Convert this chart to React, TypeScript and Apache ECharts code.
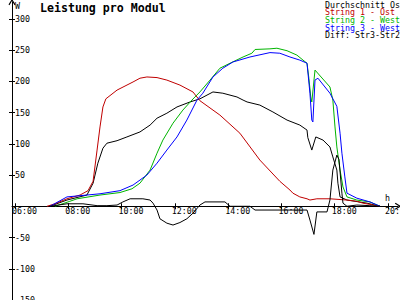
import React, { useEffect, useRef } from "react";
import * as echarts from "echarts";

// x ticks in hours, y ticks in W
const xTickHours = [6, 8, 10, 12, 14, 16, 18, 20];
const yTickValues = [-150, -100, -50, 50, 100, 150, 200, 250, 300];

const titleText = "Leistung pro Modul";
const legendNames = [
  "Durchschnitt Ost",
  "String 1 - Ost",
  "String 2 - West",
  "String 3 - West",
  "Diff: Str3-Str2",
];
const legendColors = ["#000000", "#c00000", "#00b400", "#0000ff", "#000000"];

// [hour, W]
const durchschnitt: [number, number][] = [
  [7.31, 0], [7.95, 10], [8.7, 18], [8.93, 37], [9.11, 69], [9.3, 93], [9.45, 101],
  [9.83, 105], [10.2, 111], [10.69, 119], [11.07, 130], [11.33, 141], [11.7, 149],
  [12.08, 159], [12.57, 167], [12.94, 172], [13.43, 183], [13.8, 181], [14.33, 175],
  [14.56, 170], [14.71, 167], [15.19, 162], [15.68, 151], [16.21, 138], [16.69, 130],
  [16.96, 122], [16.99, 110], [17.14, 90], [17.29, 111], [17.56, 106], [17.82, 95],
  [17.93, 79], [18.08, 58], [18.12, 37], [18.2, 15], [18.46, 10], [19.21, 5], [19.7, 0],
];
const string1Ost: [number, number][] = [
  [7.2, 0], [7.5, 4], [7.95, 12], [8.44, 18], [8.74, 25], [8.93, 40], [9.08, 90],
  [9.19, 127], [9.3, 159], [9.41, 172], [9.83, 186], [10.43, 199], [10.69, 205],
  [10.95, 207], [11.33, 206], [11.7, 202], [12.19, 194], [12.68, 183], [12.94, 169],
  [13.69, 146], [14.44, 117], [15.19, 74], [15.94, 40], [16.32, 26], [16.43, 21],
  [16.69, 15], [16.96, 12], [17.07, 10], [17.33, 12], [17.82, 12], [18.46, 10],
  [18.83, 8], [19.06, 5], [19.32, 3], [19.7, 0],
];
const string2West: [number, number][] = [
  [7.5, 0], [8.06, 8], [8.33, 12], [9.19, 18], [9.94, 22], [10.39, 28], [10.69, 37],
  [11.07, 58], [11.33, 85], [11.55, 106], [11.93, 133], [12.3, 154], [12.64, 170],
  [12.94, 183], [13.32, 202], [13.69, 221], [14.07, 229], [14.56, 239], [14.89, 245],
  [15.01, 251], [15.57, 252], [15.83, 253], [16.21, 249], [16.58, 242], [16.81, 234],
  [16.96, 229], [17.03, 205], [17.1, 175], [17.14, 167], [17.26, 218], [17.82, 191],
  [17.93, 170], [18.01, 127], [18.08, 95], [18.2, 58], [18.31, 31], [18.46, 15],
  [18.83, 10], [19.32, 7], [19.7, 0],
];
const string3West: [number, number][] = [
  [7.31, 0], [7.95, 15], [9.19, 20], [9.94, 25], [10.43, 34], [10.95, 50], [11.33, 69],
  [11.7, 90], [12.08, 111], [12.45, 138], [12.83, 170], [13.05, 181], [13.43, 207],
  [13.8, 221], [14.18, 231], [14.82, 239], [15.57, 246], [15.94, 245], [16.32, 239],
  [16.69, 234], [16.96, 229], [17.07, 181], [17.14, 138], [17.18, 135], [17.26, 202],
  [17.37, 205], [17.82, 181], [18.08, 160], [18.2, 117], [18.27, 85], [18.38, 47],
  [18.46, 21], [18.83, 13], [19.32, 7], [19.7, 0],
];
const diffStr3Str2: [number, number][] = [
  [7.31, 0], [7.95, 4], [8.55, 4], [9.08, 1], [9.45, 1], [9.83, 2], [10.05, 7],
  [10.32, 12], [10.8, 12], [11.07, 10], [11.18, 5], [11.33, -6], [11.44, -20],
  [11.7, -27], [11.93, -30], [12.19, -26], [12.45, -20], [12.68, -11], [12.94, 2],
  [13.13, 7], [13.88, 7], [14.07, 0], [14.82, 0], [15.01, -6], [16.96, -6],
  [17.07, -22], [17.22, -45], [17.33, -9], [17.71, -9], [17.82, 10], [17.93, 58],
  [18.08, 82], [18.16, 75], [18.27, 21], [18.31, 5], [18.46, 0], [18.83, 2],
  [19.32, 1], [19.7, 0],
];

const X_MIN = 5.887;
const X_MAX = 20.375;
const Y_MIN = -150;
const Y_MAX = 327;
const FONT = "DejaVu Sans Mono";

const GRID_TOP = 2;
const GRID_H = 298;
// distance from grid bottom up to the zero line
const ZERO_OFFSET = -(GRID_H - ((Y_MAX - 0) / (Y_MAX - Y_MIN)) * GRID_H);

const fmtHour = (v: number) => (v < 10 ? "0" : "") + Math.round(v) + ":00";

export default function App() {
  const ref = useRef<HTMLDivElement>(null);
  useEffect(() => {
    if (!ref.current) return;
    const chart = echarts.init(ref.current, undefined, { renderer: "svg" });
    const seriesData = [durchschnitt, string1Ost, string2West, string3West, diffStr3Str2];
    const arrow = "path://M5,0 L10,8 L8.6,9 L5,3 L1.4,9 L0,8 Z";
    const baseX = {
      type: "value" as const,
      min: X_MIN,
      max: X_MAX,
      position: "bottom" as const,
      offset: ZERO_OFFSET,
      splitLine: { show: false },
    };
    const baseY = {
      type: "value" as const,
      min: Y_MIN,
      max: Y_MAX,
      position: "left" as const,
      splitLine: { show: false },
    };
    chart.setOption({
      animation: false,
      textStyle: { fontFamily: FONT },
      grid: {
        left: 12,
        right: 2,
        top: GRID_TOP,
        height: GRID_H,
        containLabel: false,
        outerBoundsMode: "none",
      },
      xAxis: [
        {
          ...baseX,
          axisLine: {
            onZero: false,
            lineStyle: { color: "#000", width: 1 },
            symbol: ["none", arrow],
            symbolSize: [7, 7],
          },
          axisTick: { show: true, length: 3, customValues: xTickHours, lineStyle: { color: "#000" } },
          axisLabel: {
            customValues: xTickHours,
            formatter: fmtHour,
            color: "#000",
            fontFamily: FONT,
            fontSize: 8.3,
            align: "left",
            padding: [0, 0, 0, -3],
            margin: 1,
          },
        },
        {
          ...baseX,
          axisLine: { show: false, onZero: false },
          axisTick: { show: true, inside: true, length: 3, customValues: xTickHours, lineStyle: { color: "#000" } },
          axisLabel: { show: false },
        },
      ],
      yAxis: [
        {
          ...baseY,
          axisLine: {
            show: true,
            onZero: false,
            lineStyle: { color: "#000", width: 1 },
            symbol: ["none", arrow],
            symbolSize: [7, 7],
          },
          axisTick: { show: true, length: 3, customValues: yTickValues, lineStyle: { color: "#000" } },
          axisLabel: {
            inside: true,
            customValues: yTickValues,
            color: "#000",
            fontFamily: FONT,
            fontSize: 8.3,
            margin: 3,
          },
        },
        {
          ...baseY,
          axisLine: { show: false, onZero: false },
          axisTick: { show: true, inside: true, length: 3, customValues: yTickValues, lineStyle: { color: "#000" } },
          axisLabel: { show: false },
        },
      ],
      series: seriesData.map((d, i) => ({
        name: legendNames[i],
        type: "line",
        data: d,
        xAxisIndex: 0,
        yAxisIndex: 0,
        showSymbol: false,
        symbol: "none",
        lineStyle: { color: legendColors[i], width: 1 },
        itemStyle: { color: legendColors[i] },
        z: 2 + i,
        silent: true,
      })),
      graphic: [
        {
          type: "text",
          style: {
            x: 40,
            y: 7.5,
            text: titleText,
            font: `bold 11.6px "${FONT}"`,
            fill: "#000",
            align: "left",
            verticalAlign: "middle",
          },
        },
        {
          type: "text",
          style: { x: 15, y: 5.5, text: "W", font: `8.3px "${FONT}"`, fill: "#000", verticalAlign: "middle", lineHeight: 7 },
        },
        {
          type: "text",
          style: { x: 385, y: 197.5, text: "h", font: `8.3px "${FONT}"`, fill: "#000", verticalAlign: "middle", lineHeight: 7 },
        },
        ...legendNames.map((n, i) => ({
          type: "text",
          style: {
            x: 325,
            y: 4.5 + i * 7.7,
            text: n,
            font: `8.3px "${FONT}"`,
            lineHeight: 7.4,
            fill: legendColors[i],
            align: "left",
            verticalAlign: "middle",
          },
        })),
      ],
    });
    return () => chart.dispose();
  }, []);
  return (
    <div
      ref={ref}
      style={{ position: "absolute", left: 0, top: 0, width: 400, height: 300, background: "#fff" }}
    />
  );
}
